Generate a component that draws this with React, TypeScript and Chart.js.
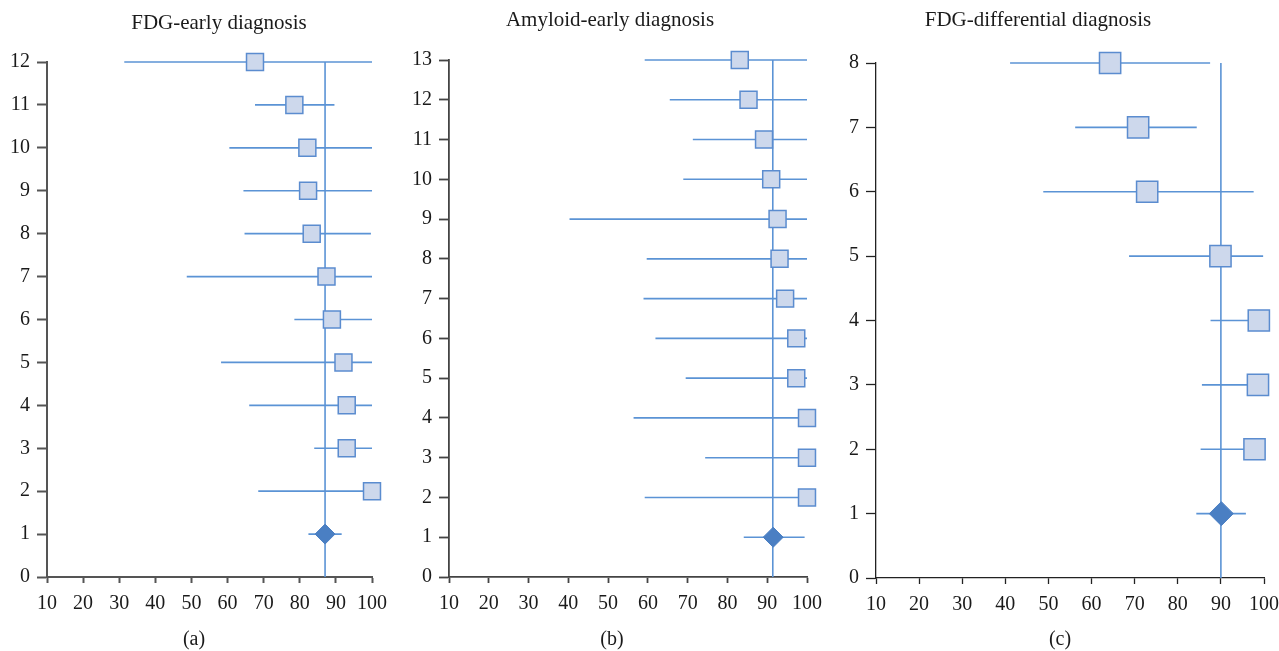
import React, { useEffect, useRef } from "react";
import { Chart, registerables } from "chart.js";

Chart.register(...registerables);

// ---------- data ----------
const xTickValues = [10, 20, 30, 40, 50, 60, 70, 80, 90, 100];

// (a) FDG-early diagnosis
const aTitle = "FDG-early diagnosis";
const aCaption = "(a)";
const aRows = [12, 11, 10, 9, 8, 7, 6, 5, 4, 3, 2];
const aEstimate = [67.6, 78.5, 82.1, 82.3, 83.3, 87.4, 88.9, 92.1, 93, 93, 100];
const aLower = [31.4, 67.6, 60.5, 64.4, 64.7, 48.7, 78.5, 58.2, 66, 84, 68.5];
const aUpper = [100, 89.6, 100, 100, 99.7, 100, 100, 100, 100, 100, 100];
const aPooled = [87, 82.4, 91.6]; // estimate, lower, upper
const aPooledRow = 1;
const aReference = 87;
const aYMax = 12;

// (b) Amyloid-early diagnosis
const bTitle = "Amyloid-early diagnosis";
const bCaption = "(b)";
const bRows = [13, 12, 11, 10, 9, 8, 7, 6, 5, 4, 3, 2];
const bEstimate = [83.1, 85.3, 89.2, 91, 92.6, 93.1, 94.5, 97.3, 97.3, 100, 100, 100];
const bLower = [59.2, 65.5, 71.3, 68.9, 40.3, 59.7, 58.9, 61.9, 69.5, 56.4, 74.4, 59.2];
const bUpper = [100, 100, 100, 100, 100, 100, 100, 100, 100, 100, 100, 100];
const bPooled = [91.5, 84.1, 99.4];
const bPooledRow = 1;
const bReference = 91.4;
const bYMax = 13;

// (c) FDG-differential diagnosis
const cTitle = "FDG-differential diagnosis";
const cCaption = "(c)";
const cRows = [8, 7, 6, 5, 4, 3, 2];
const cEstimate = [64.3, 70.8, 72.9, 89.9, 98.8, 98.6, 97.8];
const cLower = [41.1, 56.2, 48.8, 68.7, 87.6, 85.6, 85.3];
const cUpper = [87.5, 84.4, 97.6, 99.8, 100, 100, 100];
const cPooled = [90.1, 84.3, 95.8];
const cPooledRow = 1;
const cReference = 90;
const cYMax = 8;

// ---------- styles ----------
const LINE = "#5b93d5";
const SQUARE_FILL = "#cdd8ec";
const SQUARE_EDGE = "#5b8ccf";
const DIAMOND_FILL = "#4a7fc3";
const TEXT = "#1a1a1a";
const SERIF = "'Liberation Serif', 'Times New Roman', serif";
const PAGE_H = 651;

type PanelProps = {
  rows: number[];
  est: number[];
  lo: number[];
  hi: number[];
  pooled: number[];
  pooledRow: number;
  reference: number;
  yMax: number;
  canvasLeft: number;
  canvasWidth: number;
  plotLeft: number;
  plotRight: number;
  plotTop: number;
  plotBottom: number;
  squareRadius: number;
  diamondRadius: number;
  axisColor: string;
  axisWidth: number;
};

function ForestPanel(p: PanelProps) {
  const ref = useRef<HTMLCanvasElement | null>(null);
  useEffect(() => {
    if (!ref.current) return;
    const xAxisH = 46;
    const datasets: any[] = [];
    p.rows.forEach((r, i) => {
      datasets.push({
        data: [
          { x: p.lo[i], y: r },
          { x: p.hi[i], y: r },
        ],
        showLine: true,
        borderColor: LINE,
        borderWidth: 1.6,
        pointRadius: 0,
        clip: false,
        order: 2,
      });
    });
    datasets.push({
      data: [
        { x: p.pooled[1], y: p.pooledRow },
        { x: p.pooled[2], y: p.pooledRow },
      ],
      showLine: true,
      borderColor: LINE,
      borderWidth: 1.6,
      pointRadius: 0,
      clip: false,
      order: 2,
    });
    datasets.push({
      data: [
        { x: p.reference, y: 0 },
        { x: p.reference, y: p.yMax },
      ],
      showLine: true,
      borderColor: LINE,
      borderWidth: 1.6,
      pointRadius: 0,
      clip: false,
      order: 2,
    });
    datasets.push({
      data: p.rows.map((r, i) => ({ x: p.est[i], y: r })),
      showLine: false,
      pointStyle: "rect",
      pointRadius: p.squareRadius,
      backgroundColor: SQUARE_FILL,
      borderColor: SQUARE_EDGE,
      borderWidth: 1.5,
      clip: false,
      order: 0,
    });
    datasets.push({
      data: [{ x: p.pooled[0], y: p.pooledRow }],
      showLine: false,
      pointStyle: "rectRot",
      pointRadius: p.diamondRadius,
      backgroundColor: DIAMOND_FILL,
      borderColor: DIAMOND_FILL,
      borderWidth: 1,
      clip: false,
      order: 0,
    });

    const tickFont = { family: SERIF, size: 20 };
    const chart = new Chart(ref.current, {
      type: "scatter",
      data: { datasets },
      options: {
        animation: false,
        responsive: false,
        events: [],
        layout: {
          padding: {
            left: 0,
            top: p.plotTop,
            right: p.canvasLeft + p.canvasWidth - p.plotRight,
            bottom: PAGE_H - p.plotBottom - xAxisH,
          },
        },
        plugins: {
          legend: { display: false },
          tooltip: { enabled: false },
          title: { display: false },
        },
        scales: {
          x: {
            type: "linear",
            min: 10,
            max: 100,
            afterBuildTicks: (scale: any) => {
              scale.ticks = xTickValues.map((v) => ({ value: v }));
            },
            afterFit: (scale: any) => {
              scale.height = xAxisH;
            },
            grid: {
              display: true,
              drawOnChartArea: false,
              drawTicks: true,
              tickLength: 6,
              tickColor: p.axisColor,
              tickWidth: p.axisWidth,
            },
            border: { display: true, color: p.axisColor, width: p.axisWidth },
            ticks: { font: tickFont, color: TEXT, padding: 9, maxRotation: 0, autoSkip: false },
          },
          y: {
            type: "linear",
            min: 0,
            max: p.yMax,
            afterFit: (scale: any) => {
              scale.width = p.plotLeft - p.canvasLeft;
            },
            grid: {
              display: true,
              drawOnChartArea: false,
              drawTicks: true,
              tickLength: 10,
              tickColor: p.axisColor,
              tickWidth: p.axisWidth,
            },
            border: { display: true, color: p.axisColor, width: p.axisWidth },
            ticks: { font: tickFont, color: TEXT, padding: 7, stepSize: 1, autoSkip: false },
          },
        },
      } as any,
    });
    return () => chart.destroy();
  }, []);
  return (
    <canvas
      ref={ref}
      width={p.canvasWidth}
      height={PAGE_H}
      style={{
        position: "absolute",
        left: p.canvasLeft,
        top: 0,
        width: p.canvasWidth,
        height: PAGE_H,
      }}
    />
  );
}

function Label(props: { text: string; cx: number; top: number; size: number }) {
  return (
    <div
      style={{
        position: "absolute",
        left: props.cx - 200,
        width: 400,
        top: props.top,
        textAlign: "center",
        fontFamily: SERIF,
        fontSize: props.size,
        lineHeight: 1,
        color: TEXT,
        whiteSpace: "nowrap",
      }}
    >
      {props.text}
    </div>
  );
}

export default function App() {
  return (
    <div
      style={{
        position: "absolute",
        left: 0,
        top: 0,
        width: 1279,
        height: PAGE_H,
        background: "#fff",
        overflow: "hidden",
      }}
    >
      <ForestPanel
        rows={aRows}
        est={aEstimate}
        lo={aLower}
        hi={aUpper}
        pooled={aPooled}
        pooledRow={aPooledRow}
        reference={aReference}
        yMax={aYMax}
        canvasLeft={0}
        canvasWidth={410}
        plotLeft={47}
        plotRight={372}
        plotTop={62}
        plotBottom={577}
        squareRadius={12}
        diamondRadius={10}
        axisColor="#555"
        axisWidth={2}
      />
      <ForestPanel
        rows={bRows}
        est={bEstimate}
        lo={bLower}
        hi={bUpper}
        pooled={bPooled}
        pooledRow={bPooledRow}
        reference={bReference}
        yMax={bYMax}
        canvasLeft={410}
        canvasWidth={430}
        plotLeft={449}
        plotRight={807}
        plotTop={60}
        plotBottom={577}
        squareRadius={12}
        diamondRadius={10}
        axisColor="#444"
        axisWidth={1.8}
      />
      <ForestPanel
        rows={cRows}
        est={cEstimate}
        lo={cLower}
        hi={cUpper}
        pooled={cPooled}
        pooledRow={cPooledRow}
        reference={cReference}
        yMax={cYMax}
        canvasLeft={830}
        canvasWidth={480}
        plotLeft={876}
        plotRight={1264}
        plotTop={63}
        plotBottom={578}
        squareRadius={15}
        diamondRadius={12}
        axisColor="#222"
        axisWidth={1.3}
      />
      <Label text={aTitle} cx={219} top={12} size={21} />
      <Label text={bTitle} cx={610} top={9} size={21} />
      <Label text={cTitle} cx={1038} top={9} size={21} />
      <Label text={aCaption} cx={194} top={628} size={20} />
      <Label text={bCaption} cx={612} top={628} size={20} />
      <Label text={cCaption} cx={1060} top={628} size={20} />
    </div>
  );
}
